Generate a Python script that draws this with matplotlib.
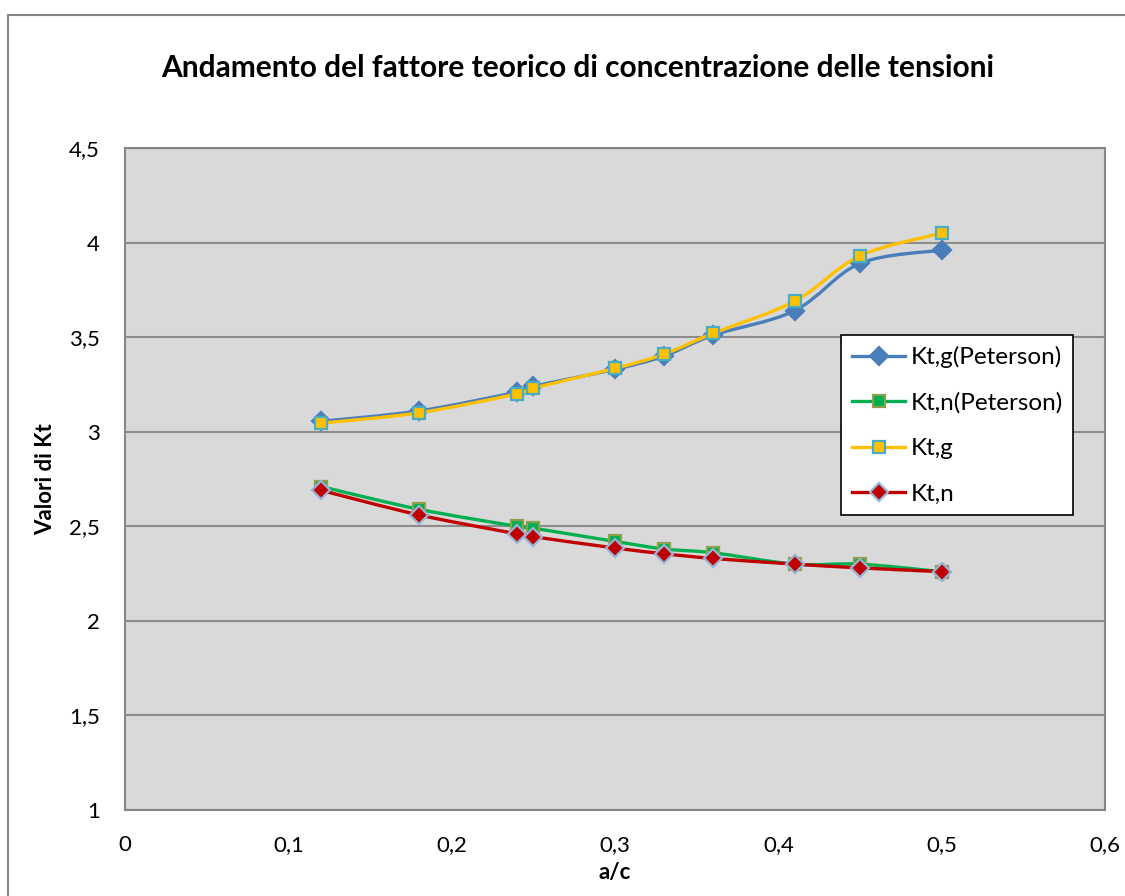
import matplotlib.pyplot as plt
from matplotlib.path import Path
from matplotlib.patches import PathPatch, Rectangle
from matplotlib.lines import Line2D

# a/c values and Kt series
ac = [0.12, 0.18, 0.24, 0.25, 0.30, 0.33, 0.36, 0.41, 0.45, 0.50]
kt_g_peterson = [3.055, 3.11, 3.21, 3.24, 3.33, 3.40, 3.51, 3.64, 3.89, 3.96]
kt_n_peterson = [2.71, 2.59, 2.50, 2.49, 2.42, 2.38, 2.36, 2.30, 2.30, 2.26]
kt_g = [3.045, 3.10, 3.20, 3.23, 3.335, 3.41, 3.52, 3.69, 3.93, 4.05]
kt_n = [2.69, 2.56, 2.46, 2.445, 2.385, 2.355, 2.33, 2.30, 2.28, 2.26]

labels = ['Kt,g(Peterson)', 'Kt,n(Peterson)', 'Kt,g', 'Kt,n']
xticks = [0, 0.1, 0.2, 0.3, 0.4, 0.5, 0.6]
yticks = [1, 1.5, 2, 2.5, 3, 3.5, 4, 4.5]

plt.rcParams['font.family'] = ['Lato', 'DejaVu Sans']


def smooth_path(x, y):
    # cubic bezier segments through the points (Excel-like smoothed line)
    verts = [(x[0], y[0])]
    codes = [Path.MOVETO]
    n = len(x)
    for i in range(n - 1):
        x0, y0 = (x[i - 1], y[i - 1]) if i > 0 else (x[i], y[i])
        x3, y3 = (x[i + 2], y[i + 2]) if i + 2 < n else (x[i + 1], y[i + 1])
        c1 = (x[i] + (x[i + 1] - x0) / 6, y[i] + (y[i + 1] - y0) / 6)
        c2 = (x[i + 1] - (x3 - x[i]) / 6, y[i + 1] - (y3 - y[i]) / 6)
        verts += [c1, c2, (x[i + 1], y[i + 1])]
        codes += [Path.CURVE4] * 3
    return Path(verts, codes)


fig = plt.figure(figsize=(11.25, 8.96), dpi=100)
ax = fig.add_axes([125 / 1125, 1 - 810 / 896, 980 / 1125, 662 / 896])
ax.set_facecolor('#d9d9d9')

# chart area border
fig.patches.append(Rectangle((8 / 1125, -0.05), 1.1, 1 - 15 / 896 + 0.05,
                             transform=fig.transFigure, fill=False,
                             edgecolor='#868686', linewidth=1.5))

series = [
    (kt_g_peterson, '#4a7ebb', 'D', '#4a7ebb', '#4a7ebb', 9),
    (kt_n_peterson, '#00b050', 's', '#00b050', '#8aa04a', 9),
    (kt_g, '#ffc000', 's', '#ffc000', '#4bacc6', 9),
    (kt_n, '#c00000', 'D', '#c00000', '#95b3d7', 9),
]

handles = []
for i, (vals, col, mk, fc, ec, ms) in enumerate(series):
    ax.add_patch(PathPatch(smooth_path(ac, vals), fill=False, edgecolor=col,
                           linewidth=2.4, zorder=3 + i * 2, capstyle='round'))
    ax.plot(ac, vals, linestyle='none', marker=mk, markersize=ms,
            markerfacecolor=fc, markeredgecolor=ec, markeredgewidth=1.6,
            zorder=4 + i * 2)
    handles.append(Line2D([], [], color=col, linewidth=2.4, marker=mk,
                          markersize=ms, markerfacecolor=fc,
                          markeredgecolor=ec, markeredgewidth=1.6))

ax.set_xlim(0, 0.6)
ax.set_ylim(1, 4.5)
ax.set_xticks(xticks)
ax.set_yticks(yticks)
ax.set_xticklabels([('%g' % v).replace('.', ',') for v in xticks], fontsize=16)
ax.set_yticklabels([('%g' % v).replace('.', ',') for v in yticks], fontsize=16)
ax.tick_params(axis='x', length=0, pad=18)
ax.tick_params(axis='y', length=0, pad=18)
ax.yaxis.grid(True, color='#8c8c8c', linewidth=1.5)
ax.set_axisbelow(True)
for s in ax.spines.values():
    s.set_color('#868686')
    s.set_linewidth(1.5)

ax.set_xlabel('a/c', fontsize=16, fontweight='bold', labelpad=5)
ax.set_ylabel('Valori di Kt', fontsize=16, fontweight='bold', labelpad=9)
fig.text(578 / 1125, 1 - 68 / 896, 'Andamento del fattore teorico di concentrazione delle tensioni',
         ha='center', va='center', fontsize=21.5, fontweight='bold')

leg = ax.legend(handles, labels, loc='upper left',
                bbox_to_anchor=(841 / 1125, 1 - 335 / 896),
                bbox_transform=fig.transFigure, fontsize=17.5, frameon=True,
                fancybox=False, handlelength=2.2, labelspacing=1.0,
                borderpad=0.45, handletextpad=0.2, borderaxespad=0)
leg.get_frame().set_edgecolor('black')
leg.get_frame().set_linewidth(1.2)
leg.get_frame().set_alpha(1)
leg.set_zorder(20)

fig.savefig('out.png', dpi=100)
